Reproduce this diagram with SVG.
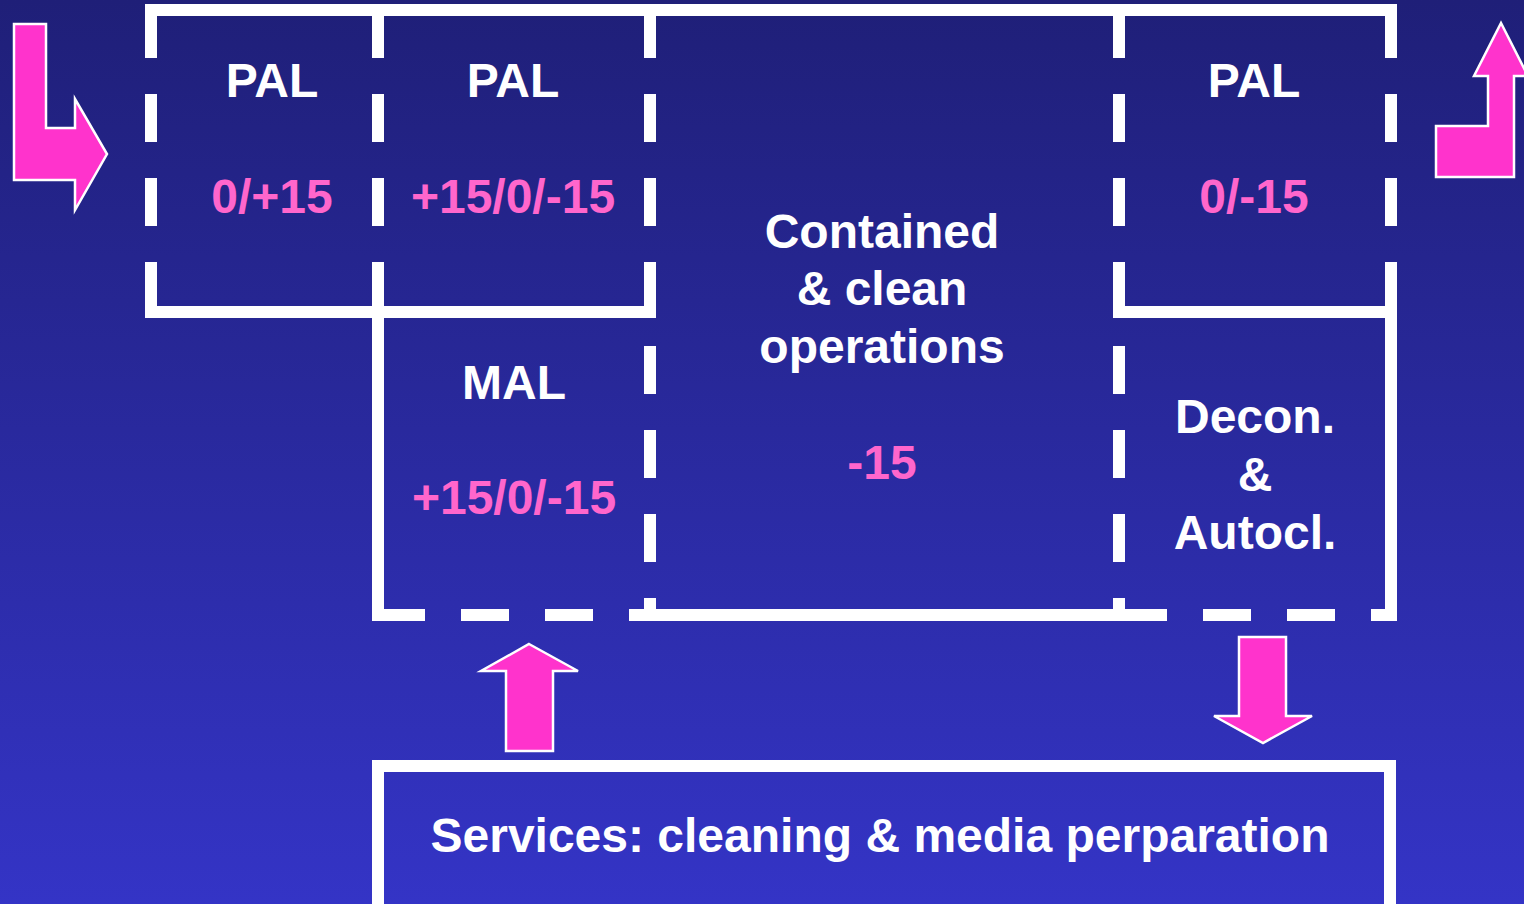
<svg xmlns="http://www.w3.org/2000/svg" width="1524" height="904" viewBox="0 0 1524 904">
<defs>
<linearGradient id="bg" x1="0" y1="0" x2="0" y2="1">
<stop offset="0" stop-color="#1f1f78"/>
<stop offset="1" stop-color="#3434c6"/>
</linearGradient>
<style>
.w{stroke:#ffffff;stroke-width:12;fill:none;stroke-linecap:butt}
.d{stroke-dasharray:48 36}
.t{font-family:"Liberation Sans",Arial,sans-serif;font-weight:bold;font-size:48px;text-anchor:middle;fill:#ffffff}
.p{fill:#ff66cc}
.arr{fill:#ff33cc;stroke:#ffffff;stroke-width:2.5}
</style>
</defs>
<rect x="0" y="0" width="1524" height="904" fill="url(#bg)"/>

<g id="connectors">
<polygon class="arr" points="14,24 46,24 46,128 75,128 75,99 107,154 75,210 75,180 14,180"/>
<polygon class="arr" points="1436,177 1436,126 1488,126 1488,76 1474,76 1501,23 1528,76 1514,76 1514,177"/>
<polygon class="arr" points="529,644 578,671 553,671 553,751 506,751 506,671 481,671"/>
<polygon class="arr" points="1239,637 1286,637 1286,716 1312,716 1263,743 1214,716 1239,716"/>
</g>

<g id="walls">
<line class="w" x1="145" y1="10" x2="1397" y2="10"/>
<line class="w d" x1="151" y1="10" x2="151" y2="312"/>
<line class="w d" x1="378" y1="10" x2="378" y2="312"/>
<line class="w" x1="378" y1="306" x2="378" y2="621"/>
<line class="w d" x1="650" y1="10" x2="650" y2="612"/>
<line class="w d" x1="1119" y1="10" x2="1119" y2="612"/>
<line class="w d" x1="1391" y1="10" x2="1391" y2="312"/>
<line class="w" x1="1391" y1="306" x2="1391" y2="621"/>
<line class="w" x1="145" y1="312" x2="656" y2="312"/>
<line class="w" x1="1113" y1="312" x2="1397" y2="312"/>
<line class="w d" x1="377" y1="615" x2="630" y2="615"/>
<line class="w" x1="630" y1="615" x2="1119" y2="615"/>
<line class="w d" x1="1119" y1="615" x2="1397" y2="615"/>
</g>

<g id="pal1">
<text class="t" x="272" y="97">PAL</text>
<text class="t p" x="272" y="213">0/+15</text>
</g>
<g id="pal2">
<text class="t" x="513" y="97">PAL</text>
<text class="t p" x="513" y="213">+15/0/-15</text>
</g>
<g id="contained">
<text class="t" x="882" y="248">Contained</text>
<text class="t" x="882" y="305">&amp; clean</text>
<text class="t" x="882" y="363">operations</text>
<text class="t p" x="882" y="479">-15</text>
</g>
<g id="pal3">
<text class="t" x="1254" y="97">PAL</text>
<text class="t p" x="1254" y="213">0/-15</text>
</g>
<g id="mal">
<text class="t" x="514" y="399">MAL</text>
<text class="t p" x="514" y="514">+15/0/-15</text>
</g>
<g id="decon">
<text class="t" x="1255" y="433">Decon.</text>
<text class="t" x="1255" y="491">&amp;</text>
<text class="t" x="1255" y="549">Autocl.</text>
</g>
<g id="services">
<rect class="w" x="378" y="766" width="1012" height="200"/>
<text class="t" x="880" y="852">Services: cleaning &amp; media perparation</text>
</g>
</svg>
